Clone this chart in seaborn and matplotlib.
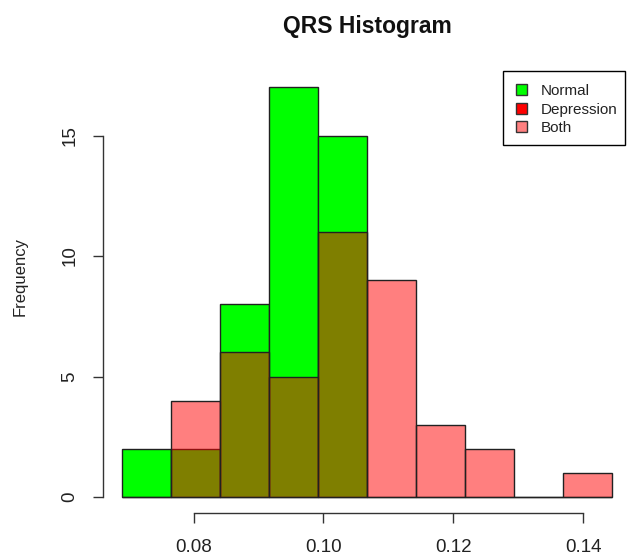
import numpy as np
import pandas as pd
import matplotlib
matplotlib.use("Agg")
import matplotlib.pyplot as plt
from matplotlib.patches import Patch, Rectangle
import seaborn as sns

# QRS duration bins shared by both groups
bin_low, bin_high, n_bins = 0.069, 0.1445, 10
normal_counts = [2, 2, 8, 17, 15, 0, 0, 0, 0, 0]
depression_counts = [0, 4, 6, 5, 11, 9, 3, 2, 0, 1]
x_ticks = [0.08, 0.10, 0.12, 0.14]
x_tick_labels = ["0.08", "0.10", "0.12", "0.14"]
y_ticks = [0, 5, 10, 15]
legend_labels = ["Normal", "Depression", "Both"]

GREEN = (0.0, 1.0, 0.0)
RED = (1.0, 0.0, 0.0)
PINK = (1.0, 0.5, 0.5)
EDGE = (0.13, 0.13, 0.13, 1.0)

sns.set_style("white")
plt.rcParams["font.family"] = ["Liberation Sans", "DejaVu Sans"]

edges = np.linspace(bin_low, bin_high, n_bins + 1)
centers = (edges[:-1] + edges[1:]) / 2
df = pd.DataFrame({
    "qrs": np.concatenate([centers, centers]),
    "count": normal_counts + depression_counts,
    "group": ["Normal"] * n_bins + ["Depression"] * n_bins,
})

W, H = 628, 560
fig = plt.figure(figsize=(W / 100, H / 100), dpi=100)
ax = fig.add_axes([102.7 / W, (H - 513.4) / H, 529.1 / W, 442.4 / H])

sns.histplot(data=df[df.group == "Normal"], x="qrs", weights="count",
             bins=n_bins, binrange=(bin_low, bin_high), ax=ax,
             color=GREEN, alpha=1.0, edgecolor="black", linewidth=1.0)
n_green = len(ax.patches)
sns.histplot(data=df[df.group == "Depression"], x="qrs", weights="count",
             bins=n_bins, binrange=(bin_low, bin_high), ax=ax,
             color=RED, alpha=0.5, edgecolor="black", linewidth=1.0)

# opaque green underneath, half-transparent red on top, solid dark borders
for i, p in enumerate(ax.patches):
    p.set_alpha(None)
    p.set_facecolor(GREEN + (1.0,) if i < n_green else RED + (0.5,))
    p.set_edgecolor(EDGE)
    p.set_linewidth(1.0)

ax.set_xlim(0.06598, 0.14752)
ax.set_ylim(-0.68, 17.68)

for side in ["top", "right"]:
    ax.spines[side].set_visible(False)
for side in ["left", "bottom"]:
    ax.spines[side].set_color("#333333")
    ax.spines[side].set_linewidth(1.0)
ax.spines["bottom"].set_bounds(0.08, 0.14)
ax.spines["left"].set_bounds(0, 15)

ax.set_xticks(x_ticks)
ax.set_xticklabels(x_tick_labels)
ax.set_yticks(y_ticks)
ax.set_yticklabels([str(v) for v in y_ticks], rotation=90, va="center")
ax.tick_params(axis="both", bottom=True, left=True, direction="out",
               length=7.5, width=1.0, color="#333333",
               labelsize=13.5, labelcolor="#222222")
ax.tick_params(axis="x", pad=11)
ax.tick_params(axis="y", pad=10)

ax.set_xlabel("")
ax.set_ylabel("Frequency", fontsize=12, color="#222222")
ax.yaxis.set_label_coords((28 - 102.7) / 529.1, (513.4 - 276) / 442.4)

fig.text(367 / W, 1 - 27 / H, "QRS Histogram", ha="center", va="center",
         fontsize=16.5, fontweight="bold", color="#111111")

# legend box in the top-right corner of the plot region
fig.add_artist(Rectangle((503 / W, 1 - 145 / H), (625 - 503) / W, 74 / H,
                         transform=fig.transFigure, facecolor="white",
                         edgecolor="black", linewidth=1.0, zorder=5))
handles = [Patch(facecolor=c, edgecolor="#333333", linewidth=1.0)
           for c in (GREEN, RED, PINK)]
leg = fig.legend(handles, legend_labels, loc="upper left",
                 bbox_to_anchor=(516 / W, 1 - 84 / H),
                 frameon=False, fontsize=11,
                 handlelength=0.75, handleheight=0.7, handletextpad=0.85,
                 labelspacing=0.3, borderpad=0, borderaxespad=0)
leg.set_zorder(6)
for t in leg.get_texts():
    t.set_color("#222222")

fig.savefig("out.png", dpi=100)
